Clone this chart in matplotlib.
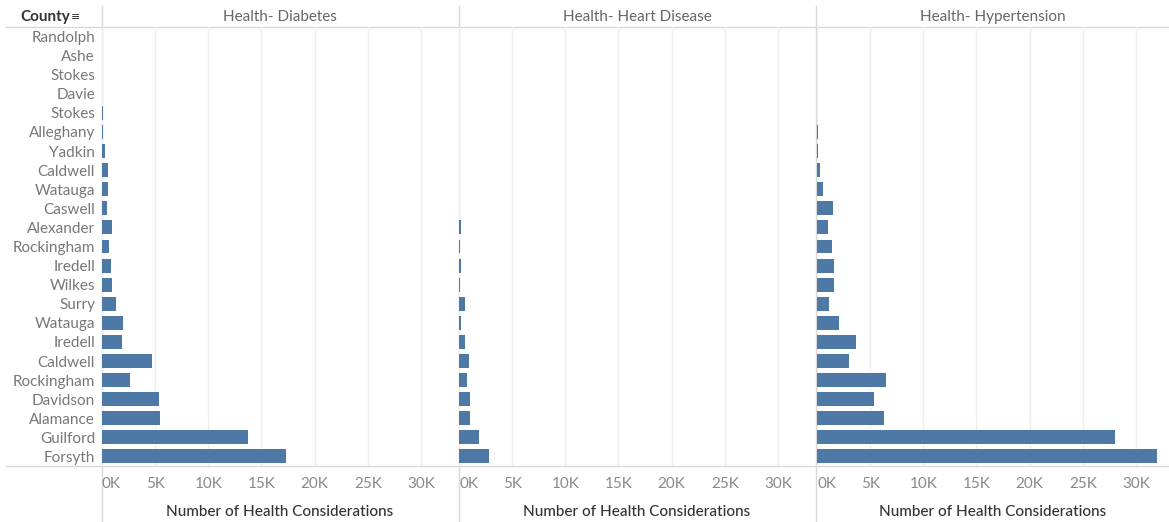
import matplotlib.pyplot as plt
from matplotlib.lines import Line2D
from matplotlib.ticker import FuncFormatter

# counties, top to bottom
counties = ["Randolph", "Ashe", "Stokes", "Davie", "Stokes", "Alleghany", "Yadkin",
            "Caldwell", "Watauga", "Caswell", "Alexander", "Rockingham", "Iredell",
            "Wilkes", "Surry", "Watauga", "Iredell", "Caldwell", "Rockingham",
            "Davidson", "Alamance", "Guilford", "Forsyth"]

diabetes = [0, 0, 0, 0, 120, 100, 250, 600, 600, 500, 950, 700, 850, 950,
            1300, 1950, 1850, 4700, 2600, 5350, 5500, 13700, 17300]
heart = [0, 0, 0, 0, 0, 0, 0, 0, 0, 0, 220, 100, 200, 70, 560, 200, 560,
         940, 780, 1030, 1030, 1840, 2800]
hypertension = [0, 0, 0, 0, 0, 100, 70, 250, 530, 1500, 1060, 1400, 1600, 1600,
                1160, 2060, 3660, 2970, 6530, 5380, 6280, 28000, 32000]

panels = ["Health- Diabetes", "Health- Heart Disease", "Health- Hypertension"]
series = [diabetes, heart, hypertension]
ticks = [0, 5000, 10000, 15000, 20000, 25000, 30000]

plt.rcParams['font.family'] = ['Lato', 'DejaVu Sans']

W, H = 1169, 522
fig = plt.figure(figsize=(W / 100, H / 100), dpi=100)

bar_color = "#4e79a7"
grid_color = "#efefef"
line_color = "#d9d9d9"

lefts = [102, 459, 817]
rights = [457, 815, 1169]
top_px, bot_px = 27, 466

for i in range(3):
    l, r = lefts[i], rights[i]
    ax = fig.add_axes([l / W, 1 - bot_px / H, (r - l) / W, (bot_px - top_px) / H])
    ax.patch.set_visible(False)
    y = list(range(len(counties)))
    ax.barh(y, series[i], height=0.73, color=bar_color, zorder=3)
    ax.set_ylim(len(counties) - 0.5, -0.5)
    ax.set_xlim(0, (r - l) / 10.63 * 1000)
    ax.set_xticks(ticks)
    ax.xaxis.set_major_formatter(FuncFormatter(lambda v, p: f"{int(v/1000)}K"))
    ax.tick_params(axis='x', length=0, labelsize=11, labelcolor="#8a8a8a", pad=8)
    for lab in ax.get_xticklabels()[:1]:
        lab.set_horizontalalignment('left')
    ax.grid(axis='x', color=grid_color, linewidth=1, zorder=0)
    ax.set_axisbelow(True)
    for s in ax.spines.values():
        s.set_visible(False)
    ax.set_xlabel("Number of Health Considerations", fontsize=11, color="#333333",
                  labelpad=10, fontweight='medium')
    if i == 0:
        ax.set_yticks(y)
        ax.set_yticklabels(counties)
        ax.tick_params(axis='y', length=0, labelsize=11, labelcolor="#777777", pad=5)
    else:
        ax.set_yticks([])
    fig.text((l + r) / 2 / W, 1 - 17 / H, panels[i], ha='center', va='center',
             fontsize=11, color="#666666")

# header / footer rules and panel dividers (behind the bars)
fig.add_artist(Line2D([6 / W, 1], [1 - top_px / H] * 2, color=line_color, lw=1, zorder=-1))
fig.add_artist(Line2D([6 / W, 1], [1 - bot_px / H] * 2, color=line_color, lw=1, zorder=-1))
for x in [101.5, 458.5, 816]:
    fig.add_artist(Line2D([x / W] * 2, [0, 1 - 6 / H], color=line_color, lw=1, zorder=-1))

fig.text(20 / W, 1 - 17 / H, "County", ha='left', va='center', fontsize=11,
         color="#333333", fontweight='bold')
fig.text(71 / W, 1 - 17 / H, "≡", ha='left', va='center', fontsize=8,
         color="#333333", family='DejaVu Sans')

fig.savefig("out.png", dpi=100)
